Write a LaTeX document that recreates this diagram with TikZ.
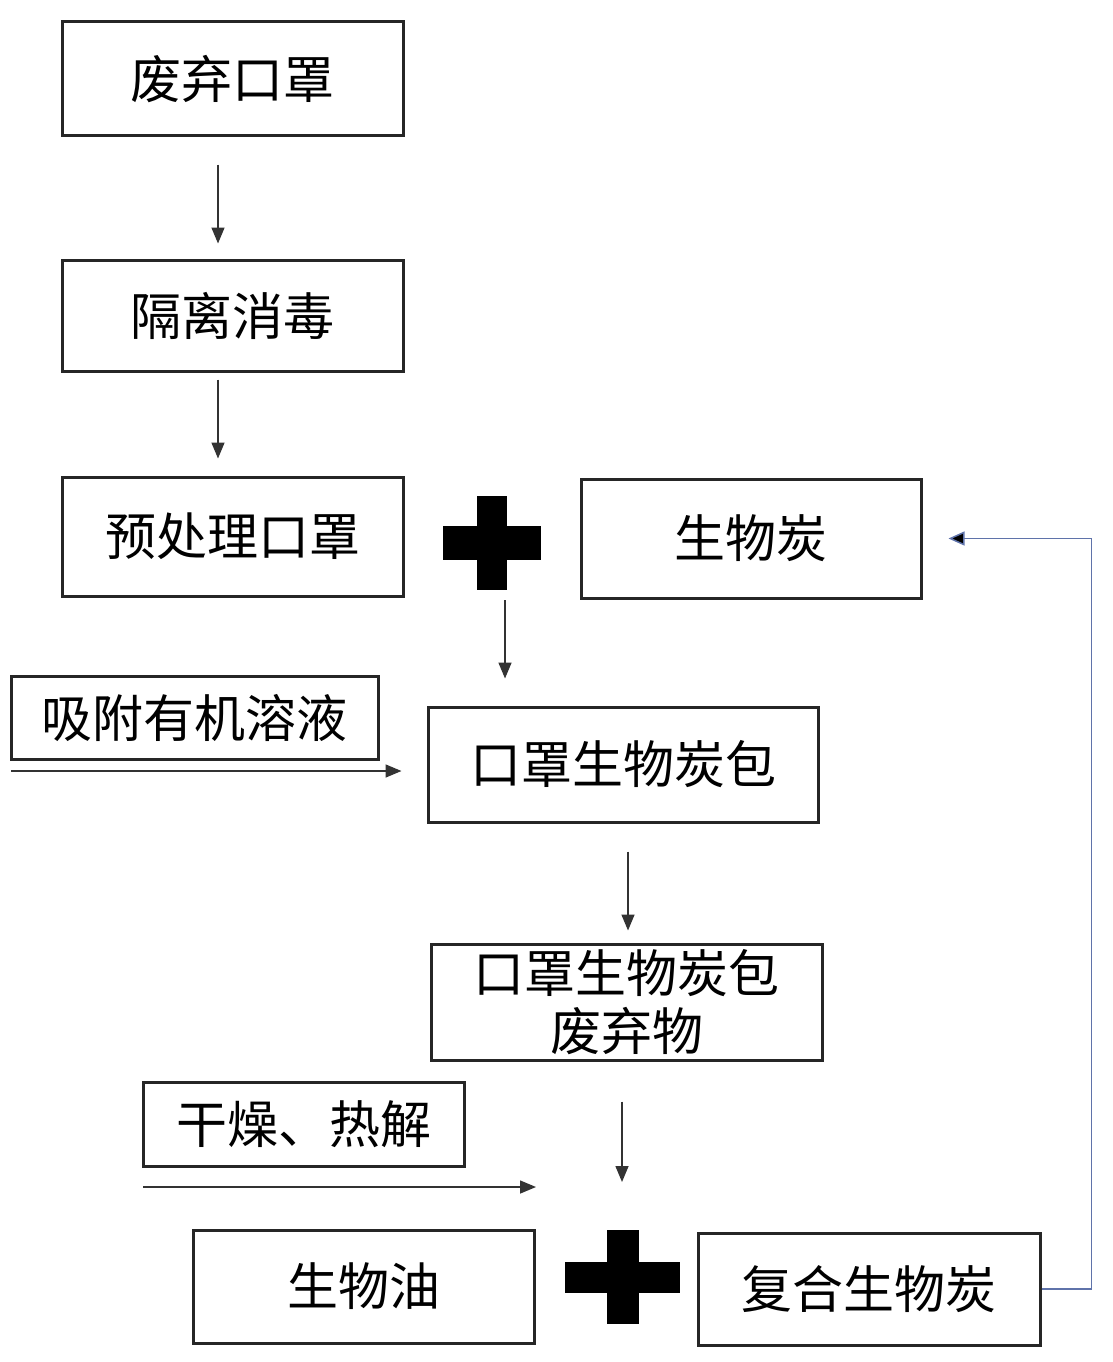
\documentclass[tikz,border=0pt]{standalone}
\usepackage{fontspec}
\newfontfamily\cjk{Noto Sans CJK SC}
\usetikzlibrary{arrows.meta}
\definecolor{loopblue}{RGB}{95,115,170}
\tikzset{
  box/.style={draw=black!85, line width=3pt, inner sep=0pt, align=center,
    font=\cjk\fontsize{51}{60}\selectfont},
  arr/.style={draw=black!80, line width=1.5pt, -{Triangle[length=16pt,width=13pt]}},
  backarr/.style={draw=loopblue, line width=1.5pt, -{Triangle[length=16pt,width=14pt,fill=black]}},
  plusfill/.style={fill=black}
}
\begin{document}
\begin{tikzpicture}[x=1pt,y=-1pt]
\useasboundingbox[fill=white] (0,0) rectangle (1112,1362);

\node[box, minimum width=341pt, minimum height=114pt] (b1) at (232.5,79) {废弃口罩};
\node[box, minimum width=341pt, minimum height=111pt] (b2) at (232.5,315.5) {隔离消毒};
\node[box, minimum width=341pt, minimum height=119pt] (b3) at (232.5,536.5) {预处理口罩};
\node[box, minimum width=340pt, minimum height=119pt] (b5) at (751,538.5) {生物炭};
\node[box, minimum width=367pt, minimum height=83pt] (b6) at (194.5,717.5) {吸附有机溶液};
\node[box, minimum width=390pt, minimum height=115pt] (b7) at (623,764.5) {口罩生物炭包};
\node[box, minimum width=391pt, minimum height=116pt] (b8) at (626.5,1002) {口罩生物炭包\\[-2pt]废弃物};
\node[box, minimum width=321pt, minimum height=84pt] (b9) at (303.5,1124) {干燥、热解};
\node[box, minimum width=341pt, minimum height=113pt] (b10) at (363.5,1286.5) {生物油};
\node[box, minimum width=342pt, minimum height=112pt] (b12) at (869,1289) {复合生物炭};

% plus signs
\fill[plusfill] (477,496) rectangle (507,590);
\fill[plusfill] (443,526) rectangle (541,560);
\coordinate (p1) at (505,590);
\fill[plusfill] (607,1230) rectangle (639,1324);
\fill[plusfill] (565,1262) rectangle (680,1293);
\coordinate (p2) at (622,1230);

% vertical arrows
\draw[arr, shorten <=27pt, shorten >=15pt] ([xshift=-14.5pt]b1.south) -- ([xshift=-14.5pt]b2.north);
\draw[arr, shorten <=7pt, shorten >=17pt] ([xshift=-14.5pt]b2.south) -- ([xshift=-14.5pt]b3.north);
\draw[arr, shorten <=10pt, shorten >=27pt] (p1) -- (p1 |- b7.north);
\draw[arr, shorten <=28pt, shorten >=12pt] ([xshift=5pt]b7.south) -- ([xshift=5pt]b7.south |- b8.north);
\draw[arr, shorten <=40pt, shorten >=48pt] (b8.south -| p2) -- (p2);

% horizontal input arrows
\coordinate (in1) at (11,771);
\draw[arr, shorten >=25pt] (in1) -- (in1 -| b7.west);
\coordinate (in2) at (143,1187);
\coordinate (in2e) at (536,1187);
\draw[arr] (in2) -- (in2e);

% recycle loop
\draw[backarr, shorten >=26pt] (b12.east) -- ++(50,0) |- (b5.east);
\end{tikzpicture}
\end{document}
